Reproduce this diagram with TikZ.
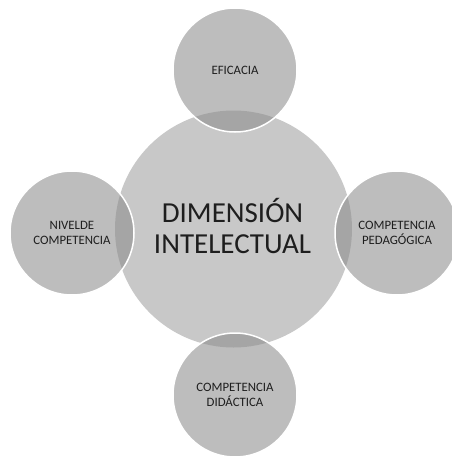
\documentclass[tikz,border=0pt]{standalone}
\usepackage{fontspec}
\setmainfont{Carlito}
\definecolor{centerfill}{HTML}{C8C8C8}
\definecolor{satfill}{RGB}{140,140,140}
\definecolor{txt}{HTML}{1E1E1E}
\begin{document}
\begin{tikzpicture}[x=1pt,y=-1pt,
  hub/.style={circle,fill=centerfill,minimum size=237pt,inner sep=0pt,text=txt,align=center,font=\fontsize{29}{31}\selectfont},
  sat/.style={circle,fill=satfill,fill opacity=0.57,text opacity=1,draw=white,line width=1.5pt,minimum size=124pt,inner sep=0pt,text=txt,align=center,font=\fontsize{12.8}{14.5}\selectfont},
  hubtext/.style={text=txt,align=center,font=\fontsize{29}{31}\selectfont}]
\useasboundingbox (0,0) rectangle (452,456);
\fill[white] (0,0) rectangle (452,456);
\node[hub] (c) at (233.5,229) {};
\node[sat] (t) at (235,70) {EFICACIA};
\node[sat] (l) at (72,233) {NIVELDE\\COMPETENCIA};
\node[sat] (r) at (397,233) {COMPETENCIA\\PEDAGÓGICA};
\node[sat] (b) at (235,395) {COMPETENCIA\\DIDÁCTICA};
\node[hubtext] (ct) at (232.5,226) {DIMENSIÓN\\INTELECTUAL};
\end{tikzpicture}
\end{document}
